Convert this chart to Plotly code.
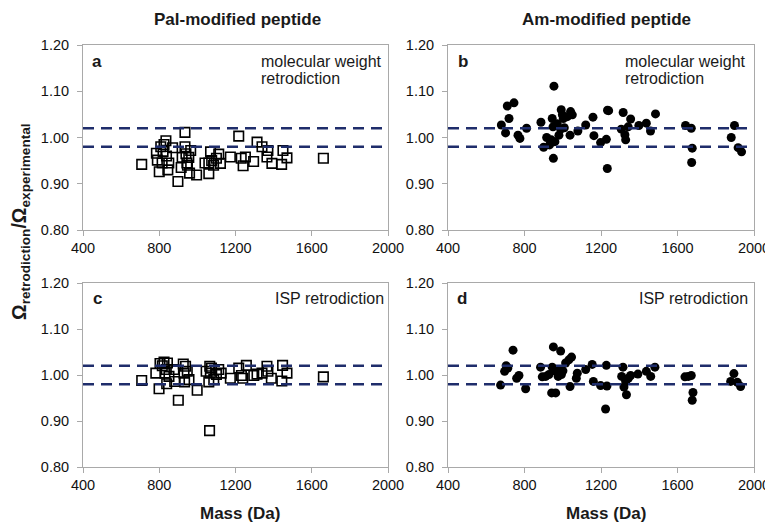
import plotly.graph_objects as go
from plotly.subplots import make_subplots

# ---- data ----
pal_mw_mass = [708, 785, 790, 800, 808, 815, 820, 825, 835, 838, 845, 850, 870, 898, 915, 920,
               935, 935, 940, 945, 948, 955, 959, 965, 996, 1040, 1060, 1060, 1069, 1075, 1085,
               1100, 1112, 1121, 1173, 1217, 1230, 1240, 1252, 1295, 1313, 1339, 1370, 1365,
               1391, 1442, 1449, 1470, 1661]
pal_mw_val = [0.942, 0.966, 0.951, 0.926, 0.980, 0.945, 0.970, 0.985, 0.993, 0.960, 0.930, 0.945,
              0.978, 0.905, 0.935, 0.957, 1.011, 0.980, 0.965, 0.945, 0.940, 0.957, 0.923, 0.972,
              0.919, 0.945, 0.922, 0.945, 0.969, 0.950, 0.940, 0.955, 0.964, 0.944, 0.958, 1.003,
              0.955, 0.939, 0.958, 0.948, 0.990, 0.980, 0.972, 0.958, 0.944, 0.942, 0.972, 0.956,
              0.955]

am_mw_mass = [679, 701, 710, 719, 745, 766, 776, 811, 886, 900, 916, 931, 940, 945, 951, 954, 949,
              959, 971, 980, 989, 992, 998, 1003, 1008, 1024, 1038, 1041, 1050, 1079, 1120, 1158,
              1163, 1198, 1228, 1233, 1234, 1240, 1306, 1316, 1325, 1329, 1342, 1355, 1398, 1437,
              1459, 1485, 1642, 1672, 1677, 1674, 1881, 1898, 1917, 1935]
am_mw_val = [1.027, 1.010, 1.068, 1.041, 1.075, 1.005, 0.998, 1.020, 1.033, 0.979, 1.000, 0.984,
             0.995, 1.041, 0.955, 1.111, 1.023, 0.991, 1.030, 1.005, 1.018, 1.060, 1.049, 1.041,
             1.021, 1.045, 1.005, 1.056, 1.049, 1.014, 1.027, 1.044, 1.004, 0.989, 0.996, 0.933,
             1.059, 1.058, 1.018, 1.054, 1.006, 0.995, 1.023, 1.040, 1.026, 1.031, 1.014, 1.051,
             1.026, 1.020, 0.977, 0.946, 1.000, 1.026, 0.978, 0.969]

pal_isp_mass = [708, 782, 799, 804, 816, 825, 830, 837, 839, 843, 851, 877, 881, 900, 926, 930, 933,
                938, 947, 956, 999, 1046, 1060, 1064, 1065, 1068, 1074, 1086, 1100, 1112, 1125,
                1173, 1217, 1231, 1238, 1257, 1296, 1313, 1339, 1365, 1370, 1388, 1443, 1447, 1470,
                1661]
pal_isp_val = [0.988, 1.004, 0.970, 1.025, 1.020, 1.028, 1.004, 1.012, 0.981, 1.026, 0.997, 1.012,
               0.986, 0.945, 1.024, 1.004, 0.985, 1.019, 1.008, 0.990, 0.967, 1.008, 0.985, 0.879,
               1.019, 1.004, 1.015, 0.990, 1.001, 1.012, 1.004, 0.993, 1.015, 0.999, 0.993, 1.021,
               0.999, 1.002, 1.004, 1.019, 1.008, 0.993, 0.987, 1.021, 1.004, 0.996]

am_isp_mass = [675, 696, 704, 713, 740, 759, 771, 806, 884, 893, 911, 928, 942, 945, 951, 955, 963,
               976, 984, 989, 993, 1001, 1015, 1032, 1038, 1046, 1071, 1076, 1120, 1154, 1160, 1198,
               1224, 1228, 1231, 1308, 1315, 1320, 1329, 1333, 1343, 1355, 1393, 1437, 1460, 1482,
               1639, 1657, 1672, 1677, 1681, 1878, 1895, 1913, 1930]
am_isp_val = [0.978, 1.008, 1.020, 1.015, 1.054, 0.993, 0.999, 0.970, 1.017, 0.996, 0.997, 1.001,
              0.961, 1.017, 1.061, 1.009, 0.961, 0.997, 1.012, 1.052, 1.001, 1.009, 1.026, 1.033,
              0.975, 1.039, 0.993, 1.004, 1.012, 1.023, 0.986, 0.977, 0.926, 1.021, 0.976, 0.997,
              1.017, 0.974, 0.986, 0.957, 0.993, 0.999, 1.002, 1.008, 0.997, 1.017, 0.996, 0.997,
              0.999, 0.945, 0.962, 0.986, 1.003, 0.984, 0.975]

limits = [0.98, 1.02]
x_ticks = [400, 800, 1200, 1600, 2000]
y_ticks = [0.80, 0.90, 1.00, 1.10, 1.20]
col_titles = ["Pal-modified peptide", "Am-modified peptide"]
panel_letters = ["a", "b", "c", "d"]
panel_notes = [["molecular weight", "retrodiction"], ["molecular weight", "retrodiction"],
               ["ISP retrodiction"], ["ISP retrodiction"]]

FONT = "Arial, Liberation Sans, sans-serif"
W, H = 773, 527
OFF = 8  # page body margin offset


def px(x):
    return (x - OFF) / W


def py(y):
    return 1 - (y - OFF) / H


fig = make_subplots(rows=2, cols=2)

series = [
    (1, 1, pal_mw_mass, pal_mw_val, "square-open"),
    (1, 2, am_mw_mass, am_mw_val, "circle"),
    (2, 1, pal_isp_mass, pal_isp_val, "square-open"),
    (2, 2, am_isp_mass, am_isp_val, "circle"),
]

for r, c, xs, ys, sym in series:
    if sym == "circle":
        marker = dict(symbol="circle", size=9, color="black")
    else:
        marker = dict(symbol="square-open", size=9.5, color="black", line=dict(width=1.6, color="black"))
    fig.add_trace(go.Scatter(x=xs, y=ys, mode="markers", marker=marker, showlegend=False), row=r, col=c)
    for lim in limits:
        fig.add_trace(go.Scatter(x=[x_ticks[0], x_ticks[-1]], y=[lim, lim], mode="lines",
                                 line=dict(color="#1f2d6b", width=2.6, dash="11px,7px"),
                                 showlegend=False, hoverinfo="skip"), row=r, col=c)

# domains (reference pixel positions)
xdom = {1: (px(83), px(388)), 2: (px(448), px(754))}
ydom = {1: (py(230), py(45)), 2: (py(467), py(283))}

axis_common = dict(showline=True, mirror=True, linecolor="#a9a9a9", linewidth=1, automargin=False,
                   ticks="outside", ticklen=5, tickcolor="#a9a9a9", showgrid=False, zeroline=False,
                   tickfont=dict(family=FONT, size=14.5, color="#111111"))

for i, (r, c) in enumerate([(1, 1), (1, 2), (2, 1), (2, 2)]):
    n = i + 1
    xa = "xaxis" if n == 1 else f"xaxis{n}"
    ya = "yaxis" if n == 1 else f"yaxis{n}"
    fig.layout[xa].update(domain=list(xdom[c]), range=[x_ticks[0], x_ticks[-1]],
                          tickvals=x_ticks, **axis_common)
    fig.layout[ya].update(domain=list(ydom[r]), range=[y_ticks[0], y_ticks[-1]],
                          tickvals=y_ticks, tickformat=".2f", ticklabelstandoff=5, **axis_common)

ann = []


def add_text(x, y, text, size, xanchor="center", bold=False, angle=0):
    ann.append(dict(x=px(x), y=py(y), text=f"<b>{text}</b>" if bold else text, showarrow=False,
                    xref="paper", yref="paper", xanchor=xanchor, yanchor="middle",
                    textangle=angle, font=dict(family=FONT, size=size, color="#1a1a1a")))


# column titles
for x, t in zip([237, 606], col_titles):
    add_text(x, 19, t, 17, bold=True)
# x axis titles
for x in [240, 606]:
    add_text(x, 513, "Mass (Da)", 17, bold=True)
# y title
add_text(21, 222, "Ω<sub>retrodiction</sub>/Ω<sub>experimental</sub>", 19.5, bold=True, angle=-90)
# panel letters
letter_pos = [(97, 62), (463, 62), (97, 298), (462, 298)]
for (x, y), L in zip(letter_pos, panel_letters):
    add_text(x, y, L, 17, bold=True)
# panel notes (left aligned, one annotation per line)
note_pos = [(259, 62), (623, 62), (273, 298), (637, 298)]
for (x, y), lines in zip(note_pos, panel_notes):
    for k, line in enumerate(lines):
        add_text(x, y + 16 * k, line, 16, xanchor="left")

fig.update_layout(width=W, height=H, margin=dict(l=0, r=0, t=0, b=0, autoexpand=False),
                  paper_bgcolor="white", plot_bgcolor="white", annotations=ann,
                  font=dict(family=FONT))

fig.write_html("out.html")
